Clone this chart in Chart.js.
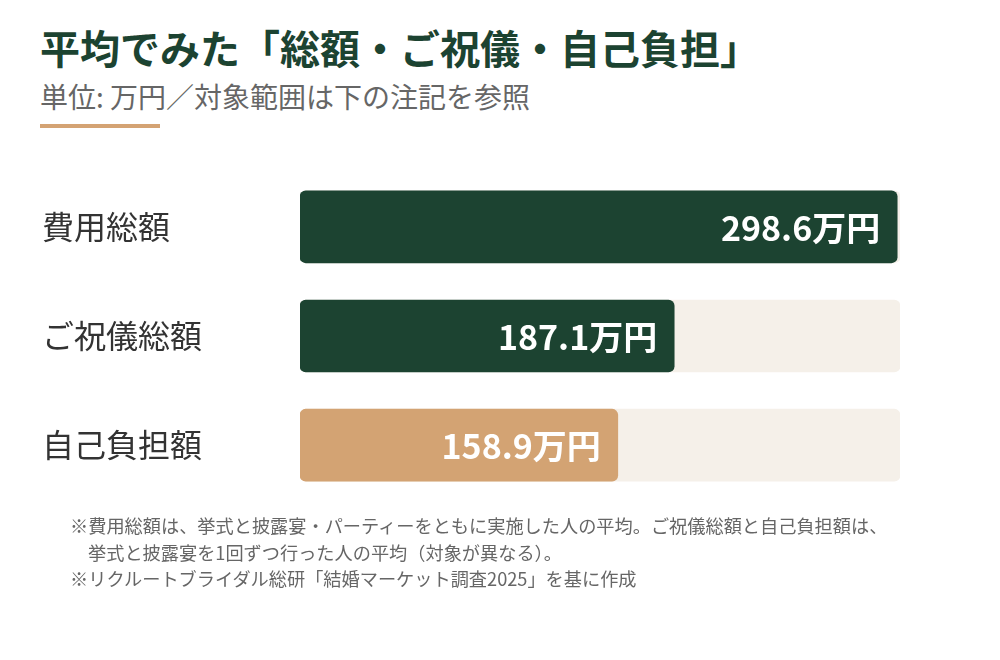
<!DOCTYPE html>
<html><head><meta charset="utf-8">
<script src="https://cdn.jsdelivr.net/npm/chart.js@4.4.1/dist/chart.umd.min.js"></script>
<style>
body{margin:0;background:#fff;}
#wrap{position:relative;width:1000px;height:660px;overflow:hidden;font-family:"Noto Sans CJK JP","Noto Sans",sans-serif;}
#title{position:absolute;left:40px;top:27px;font-size:40px;font-weight:700;color:#1c4331;line-height:1;white-space:nowrap;}
#sub{position:absolute;left:40px;top:82px;font-size:28px;color:#666;line-height:1;white-space:nowrap;}
#rule{position:absolute;left:40px;top:124px;width:120px;height:4px;background:#d4a373;}
#cv{position:absolute;left:0;top:153px;}
#notes{position:absolute;left:70px;top:512px;font-size:18.2px;color:#666;line-height:26.5px;white-space:nowrap;}
#notes .ind{padding-left:18px;}
</style></head>
<body>
<div id="wrap">
  <div id="title">平均でみた「総額・ご祝儀・自己負担」</div>
  <div id="sub">単位: 万円／対象範囲は下の注記を参照</div>
  <div id="rule"></div>
  <canvas id="cv" width="1000" height="366"></canvas>
  <div id="notes">
    <div>※費用総額は、挙式と披露宴・パーティーをともに実施した人の平均。ご祝儀総額と自己負担額は、</div>
    <div class="ind">挙式と披露宴を1回ずつ行った人の平均（対象が異なる）。</div>
    <div>※リクルートブライダル総研「結婚マーケット調査2025」を基に作成</div>
  </div>
</div>
<script>
const categories = ['費用総額', 'ご祝儀総額', '自己負担額'];
const values = [298.6, 187.1, 158.9];
const trackValues = [300, 300, 300];
const barColors = ['#1c4331', '#1c4331', '#d3a373'];
const axisMax = 300;
const unit = '万円';

const FONT = '"Noto Sans CJK JP", "Noto Sans", sans-serif';
Chart.defaults.font.family = FONT;

const valueLabels = {
  id: 'valueLabels',
  afterDatasetsDraw(chart) {
    const ctx = chart.ctx;
    const meta = chart.getDatasetMeta(0);
    ctx.save();
    ctx.font = 'bold 34px ' + FONT;
    ctx.fillStyle = '#ffffff';
    ctx.textAlign = 'right';
    ctx.textBaseline = 'middle';
    meta.data.forEach((el, i) => {
      ctx.fillText(values[i].toFixed(1) + unit, el.x - 17, el.y + 1);
    });
    ctx.restore();
  }
};

new Chart(document.getElementById('cv'), {
  type: 'bar',
  data: {
    labels: categories,
    datasets: [
      { data: values, backgroundColor: barColors, borderRadius: 6, borderSkipped: false,
        barThickness: 72, grouped: false, order: 0 },
      { data: trackValues, backgroundColor: '#f5f0e9', borderRadius: 6, borderSkipped: false,
        barThickness: 72, grouped: false, order: 1 }
    ]
  },
  options: {
    indexAxis: 'y',
    responsive: false,
    animation: false,
    layout: { padding: { left: 42, right: 100, top: 0, bottom: 0 } },
    plugins: { legend: { display: false }, tooltip: { enabled: false } },
    scales: {
      x: { min: 0, max: axisMax, display: false },
      y: {
        grid: { display: false },
        border: { display: false },
        ticks: { crossAlign: 'far', color: '#333', padding: 0, font: { size: 32 } },
        afterFit(s) { s.width = 258; }
      }
    }
  },
  plugins: [valueLabels]
});
</script>
</body></html>
